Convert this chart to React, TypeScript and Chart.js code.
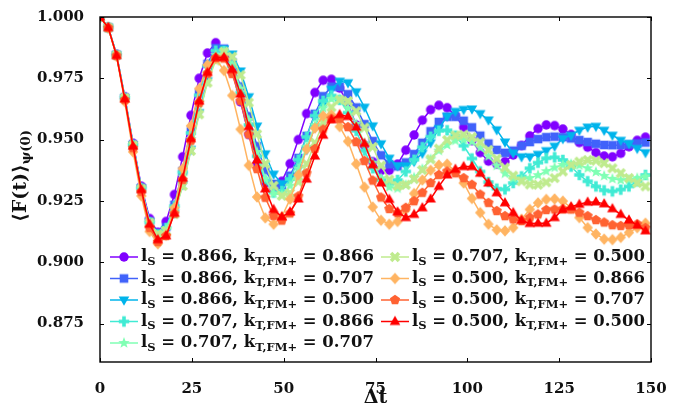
import React, { useEffect, useRef } from "react";
import { Chart, registerables } from "chart.js";

Chart.register(...registerables);

// time axis (Δt)
const T = [0, 2.25, 4.5, 6.75, 9, 11.25, 13.5, 15.75, 18, 20.25, 22.5, 24.75, 27, 29.25, 31.5, 33.75, 36, 38.25, 40.5, 42.75, 45, 47.25, 49.5, 51.75, 54, 56.25, 58.5, 60.75, 63, 65.25, 67.5, 69.75, 72, 74.25, 76.5, 78.75, 81, 83.25, 85.5, 87.75, 90, 92.25, 94.5, 96.75, 99, 101.25, 103.5, 105.75, 108, 110.25, 112.5, 114.75, 117, 119.25, 121.5, 123.75, 126, 128.25, 130.5, 132.75, 135, 137.25, 139.5, 141.75, 144, 146.25, 148.5];

const F_S866_K866 = [
  1.0, 0.9958, 0.9848, 0.9675, 0.9485, 0.931, 0.9178, 0.9122, 0.9166, 0.9276,
  0.943, 0.9599, 0.975, 0.9853, 0.9895, 0.986, 0.9776, 0.9654, 0.9521, 0.9403,
  0.9324, 0.93, 0.933, 0.9402, 0.95, 0.9606, 0.9692, 0.9742, 0.9746, 0.971,
  0.9644, 0.956, 0.9476, 0.941, 0.9374, 0.9375, 0.94, 0.9457, 0.9519, 0.9579,
  0.9622, 0.964, 0.963, 0.9598, 0.955, 0.9496, 0.9447, 0.9412, 0.94, 0.941,
  0.9437, 0.9476, 0.9515, 0.9545, 0.956, 0.9557, 0.9543, 0.9521, 0.9488, 0.9469,
  0.9447, 0.9433, 0.943, 0.9444, 0.9471, 0.9497, 0.951,
];
const F_S866_K707 = [
  1.0, 0.9957, 0.9846, 0.9671, 0.948, 0.9303, 0.9166, 0.9115, 0.9143, 0.9234,
  0.9372, 0.9534, 0.9689, 0.9809, 0.9873, 0.9871, 0.9815, 0.9717, 0.9595, 0.9473,
  0.9375, 0.9319, 0.9314, 0.9353, 0.9425, 0.9515, 0.9605, 0.9677, 0.9716, 0.9715,
  0.9685, 0.9631, 0.9563, 0.9494, 0.9436, 0.9399, 0.9391, 0.9407, 0.9441, 0.9487,
  0.9534, 0.9572, 0.9593, 0.9593, 0.9577, 0.955, 0.9516, 0.9484, 0.9458, 0.9446,
  0.9455, 0.9475, 0.949, 0.9502, 0.951, 0.9512, 0.951, 0.9505, 0.9498, 0.949,
  0.9483, 0.9478, 0.9477, 0.9478, 0.948, 0.9484, 0.9488,
];
const F_S866_K500 = [
  1.0, 0.9957, 0.9846, 0.967, 0.9478, 0.9302, 0.9165, 0.912, 0.9132, 0.92,
  0.9316, 0.946, 0.961, 0.974, 0.9833, 0.987, 0.9849, 0.978, 0.9675, 0.9555,
  0.9442, 0.9359, 0.9321, 0.9332, 0.9382, 0.9459, 0.9551, 0.9638, 0.9705, 0.9738,
  0.9732, 0.9695, 0.9632, 0.9556, 0.9483, 0.9424, 0.9393, 0.9393, 0.9411, 0.9444,
  0.9487, 0.9545, 0.9595, 0.9615, 0.9623, 0.9625, 0.9606, 0.958, 0.954, 0.949,
  0.9445, 0.943, 0.943, 0.944, 0.9455, 0.9473, 0.9504, 0.9518, 0.9538, 0.9551,
  0.9554, 0.9538, 0.9518, 0.9497, 0.9484, 0.9464, 0.9447,
];
const F_S707_K866 = [
  1.0, 0.9957, 0.9845, 0.967, 0.9478, 0.9302, 0.9163, 0.9112, 0.9139, 0.9229,
  0.9367, 0.9527, 0.9681, 0.98, 0.9863, 0.9861, 0.9799, 0.9691, 0.956, 0.9432,
  0.9333, 0.9284, 0.929, 0.9339, 0.9418, 0.9511, 0.9598, 0.9658, 0.968, 0.9662,
  0.961, 0.9536, 0.9455, 0.9383, 0.9335, 0.932, 0.9335, 0.937, 0.9418, 0.9469,
  0.9512, 0.9536, 0.9538, 0.9516, 0.9475, 0.9423, 0.937, 0.9327, 0.93, 0.9297,
  0.9323, 0.935, 0.9383, 0.9406, 0.9424, 0.9428, 0.9417, 0.939, 0.9356, 0.933,
  0.9309, 0.9293, 0.9289, 0.9296, 0.9309, 0.933, 0.9356,
];
const F_S707_K707 = [
  1.0, 0.9957, 0.9845, 0.967, 0.9477, 0.93, 0.916, 0.911, 0.9136, 0.922,
  0.935, 0.9502, 0.9652, 0.9773, 0.9845, 0.9858, 0.9807, 0.9708, 0.958, 0.9449,
  0.9341, 0.928, 0.9274, 0.9312, 0.9382, 0.947, 0.9558, 0.9628, 0.9666, 0.9664,
  0.9628, 0.9564, 0.9485, 0.9406, 0.9342, 0.9306, 0.9301, 0.9315, 0.9345, 0.938,
  0.942, 0.9455, 0.9478, 0.9496, 0.95, 0.9491, 0.9467, 0.9432, 0.9394, 0.9362,
  0.9342, 0.9338, 0.9343, 0.9355, 0.9371, 0.9386, 0.9397, 0.94, 0.9395, 0.9383,
  0.9368, 0.9352, 0.934, 0.9335, 0.9337, 0.9343, 0.935,
];
const F_S707_K500 = [
  1.0, 0.9957, 0.9845, 0.967, 0.9477, 0.93, 0.9162, 0.9115, 0.9128, 0.9196,
  0.9311, 0.9454, 0.9603, 0.9732, 0.9823, 0.9859, 0.9838, 0.9763, 0.9651, 0.9522,
  0.9401, 0.9312, 0.9271, 0.9282, 0.9328, 0.9401, 0.9487, 0.9569, 0.9632, 0.9663,
  0.9657, 0.9616, 0.9549, 0.947, 0.9394, 0.9337, 0.9311, 0.9316, 0.9339, 0.9376,
  0.942, 0.9463, 0.9498, 0.9517, 0.952, 0.951, 0.9489, 0.9458, 0.9422, 0.9386,
  0.9353, 0.933, 0.9317, 0.9316, 0.9326, 0.9343, 0.937, 0.9397, 0.941, 0.9417,
  0.9414, 0.9404, 0.9383, 0.9363, 0.9343, 0.9323, 0.9309,
];
const F_S500_K866 = [
  1.0, 0.9955, 0.984, 0.9655, 0.945, 0.927, 0.9125, 0.9075, 0.911, 0.9222,
  0.9382, 0.9556, 0.9708, 0.9805, 0.983, 0.9782, 0.968, 0.9542, 0.9395, 0.9266,
  0.9181, 0.9155, 0.9185, 0.9257, 0.9356, 0.9461, 0.9547, 0.9597, 0.9601, 0.9553,
  0.9493, 0.9401, 0.9306, 0.9225, 0.9171, 0.9155, 0.9166, 0.9215, 0.928, 0.9335,
  0.9375, 0.9396, 0.94, 0.937, 0.9323, 0.926, 0.9202, 0.9155, 0.9132, 0.9128,
  0.9141, 0.9175, 0.9215, 0.9242, 0.9256, 0.9258, 0.9249, 0.9222, 0.9182, 0.9141,
  0.9115, 0.9094, 0.9092, 0.9101, 0.9121, 0.9141, 0.9159,
];
const F_S500_K707 = [
  1.0, 0.9956, 0.9842, 0.9662, 0.9465, 0.9287, 0.914, 0.9083, 0.9107, 0.9198,
  0.9336, 0.9496, 0.965, 0.9769, 0.9833, 0.9831, 0.9768, 0.9658, 0.9521, 0.938,
  0.9263, 0.9189, 0.917, 0.9199, 0.9269, 0.9363, 0.9462, 0.9541, 0.9585, 0.9585,
  0.9551, 0.949, 0.9413, 0.9333, 0.9264, 0.9217, 0.92, 0.9222, 0.9249, 0.9283,
  0.9323, 0.9356, 0.937, 0.9363, 0.9343, 0.9316, 0.9276, 0.9242, 0.9209, 0.9188,
  0.9175, 0.9168, 0.9182, 0.9195, 0.9213, 0.9215, 0.9216, 0.9215, 0.9202, 0.9188,
  0.9172, 0.9162, 0.9151, 0.9148, 0.9151, 0.9155, 0.914,
];
const F_S500_K500 = [
  1.0, 0.9957, 0.9843, 0.9666, 0.9473, 0.9296, 0.9155, 0.9092, 0.9108, 0.92,
  0.9343, 0.9504, 0.9657, 0.9774, 0.9835, 0.9835, 0.9786, 0.9686, 0.9553, 0.9417,
  0.9299, 0.9215, 0.9185, 0.9205, 0.9258, 0.9339, 0.9433, 0.9518, 0.9581, 0.9602,
  0.9594, 0.9551, 0.9484, 0.9397, 0.9323, 0.9256, 0.9205, 0.9182, 0.9195, 0.9222,
  0.9258, 0.9309, 0.9356, 0.9379, 0.939, 0.939, 0.9363, 0.9323, 0.9283, 0.9242,
  0.9202, 0.9171, 0.9158, 0.9159, 0.9159, 0.9182, 0.9215, 0.9226, 0.9236, 0.9245,
  0.9246, 0.9238, 0.9218, 0.9195, 0.9172, 0.9151, 0.9128,
];

const SERIES = [F_S866_K866, F_S866_K707, F_S866_K500, F_S707_K866, F_S707_K707, F_S707_K500, F_S500_K866, F_S500_K707, F_S500_K500];
const LS_LABELS = ["0.866", "0.866", "0.866", "0.707", "0.707", "0.707", "0.500", "0.500", "0.500"];
const K_LABELS = ["0.866", "0.707", "0.500", "0.866", "0.707", "0.500", "0.866", "0.707", "0.500"];
const COLORS = ["#8000ff", "#4062fa", "#00b4eb", "#40ebd4", "#80ffb4", "#bfeb8e", "#ffb462", "#ff6232", "#ff0000"];
const MARKERS = ["o", "s", "v", "P", "*", "X", "D", "p", "^"];
const X_TICKS = [0, 25, 50, 75, 100, 125, 150];
const Y_TICKS = [0.875, 0.9, 0.925, 0.95, 0.975, 1.0];
const X_MIN = 0, X_MAX = 150, Y_MIN = 0.8593, Y_MAX = 1.0;

const FONT = '"DejaVu Serif", "Liberation Serif", serif';

function makeMarker(kind: string, color: string): HTMLCanvasElement {
  const s = 16;
  const c = document.createElement("canvas");
  c.width = s;
  c.height = s;
  const g = c.getContext("2d")!;
  g.fillStyle = color;
  g.translate(s / 2, s / 2);
  g.beginPath();
  const poly = (pts: number[][]) => {
    pts.forEach((p, i) => (i === 0 ? g.moveTo(p[0], p[1]) : g.lineTo(p[0], p[1])));
    g.closePath();
  };
  const plus = (a: number, w: number) => [
    [-w, -a], [w, -a], [w, -w], [a, -w], [a, w], [w, w], [w, a], [-w, a], [-w, w], [-a, w], [-a, -w], [-w, -w],
  ];
  switch (kind) {
    case "o":
      g.arc(0, 0, 4.7, 0, Math.PI * 2);
      break;
    case "s":
      g.rect(-4.3, -4.3, 8.6, 8.6);
      break;
    case "v":
      poly([[-5.3, -3.4], [5.3, -3.4], [0, 5.8]]);
      break;
    case "^":
      poly([[-5.3, 3.4], [5.3, 3.4], [0, -5.8]]);
      break;
    case "D":
      poly([[0, -5.7], [5.2, 0], [0, 5.7], [-5.2, 0]]);
      break;
    case "P":
      poly(plus(5.2, 1.8));
      break;
    case "X":
      g.rotate(Math.PI / 4);
      poly(plus(5.6, 1.8));
      break;
    case "*": {
      const pts: number[][] = [];
      for (let k = 0; k < 10; k++) {
        const r = k % 2 === 0 ? 6.0 : 2.5;
        const ang = -Math.PI / 2 + (k * Math.PI) / 5;
        pts.push([r * Math.cos(ang), r * Math.sin(ang)]);
      }
      poly(pts);
      break;
    }
    case "p": {
      const pts: number[][] = [];
      for (let k = 0; k < 5; k++) {
        const ang = -Math.PI / 2 + (k * 2 * Math.PI) / 5;
        pts.push([5.3 * Math.cos(ang), 5.3 * Math.sin(ang)]);
      }
      poly(pts);
      break;
    }
  }
  g.fill();
  return c;
}

type Part = { t: string; sub?: boolean };

function drawRich(ctx: CanvasRenderingContext2D, parts: Part[], x: number, y: number, size: number, measureOnly = false) {
  let cx = x;
  for (const p of parts) {
    const fs = p.sub ? size * 0.7 : size;
    ctx.font = `bold ${fs}px ${FONT}`;
    const w = ctx.measureText(p.t).width;
    if (!measureOnly) ctx.fillText(p.t, cx, p.sub ? y + size * 0.3 : y);
    cx += w;
  }
  return cx - x;
}

export default function App() {
  const ref = useRef<HTMLCanvasElement>(null);

  useEffect(() => {
    const markers = MARKERS.map((m, i) => makeMarker(m, COLORS[i]));

    const decor = {
      id: "decor",
      afterDraw(chart: any) {
        const { ctx, chartArea: a, scales } = chart;
        ctx.save();
        // frame
        ctx.strokeStyle = "#000";
        ctx.lineWidth = 1.4;
        ctx.strokeRect(a.left, a.top, a.right - a.left, a.bottom - a.top);
        // inward ticks
        ctx.lineWidth = 1;
        ctx.beginPath();
        for (const v of X_TICKS) {
          const p = Math.round(scales.x.getPixelForValue(v)) + 0.5;
          ctx.moveTo(p, a.bottom);
          ctx.lineTo(p, a.bottom - 4);
          ctx.moveTo(p, a.top);
          ctx.lineTo(p, a.top + 4);
        }
        for (const v of Y_TICKS) {
          const p = Math.round(scales.y.getPixelForValue(v)) + 0.5;
          ctx.moveTo(a.left, p);
          ctx.lineTo(a.left + 4, p);
          ctx.moveTo(a.right, p);
          ctx.lineTo(a.right - 4, p);
        }
        ctx.stroke();

        // legend
        const colX = [110, 381];
        const textX = [141, 412];
        const rowY = [257, 278.5, 300, 321.5, 343];
        const target = 233;
        ctx.textBaseline = "middle";
        ctx.textAlign = "left";
        SERIES.forEach((_, i) => {
          const col = i < 5 ? 0 : 1;
          const row = i < 5 ? i : i - 5;
          const y = rowY[row];
          const lx = colX[col];
          ctx.strokeStyle = COLORS[i];
          ctx.lineWidth = 1.5;
          ctx.beginPath();
          ctx.moveTo(lx, y);
          ctx.lineTo(lx + 28, y);
          ctx.stroke();
          ctx.drawImage(markers[i], lx + 14 - 8, y - 8);
          const parts: Part[] = [
            { t: "l" },
            { t: "S", sub: true },
            { t: " = " + LS_LABELS[i] + ", k" },
            { t: "T,FM+", sub: true },
            { t: " = " + K_LABELS[i] },
          ];
          const w0 = drawRich(ctx, parts, 0, 0, 16, true);
          const size = (16 * target) / w0;
          ctx.fillStyle = "#111";
          drawRich(ctx, parts, textX[col], y, size);
        });

        // x title
        ctx.fillStyle = "#111";
        ctx.textAlign = "center";
        ctx.font = `bold 19px ${FONT}`;
        ctx.fillText("\u0394t", (a.left + a.right) / 2, 398);

        // y title
        ctx.save();
        ctx.translate(21, 176);
        ctx.rotate(-Math.PI / 2);
        ctx.textAlign = "left";
        const yParts: Part[] = [{ t: "\u27E8F(t)\u27E9" }, { t: "\u03C8(0)", sub: true }];
        const wy = drawRich(ctx, yParts, 0, 0, 19, true);
        drawRich(ctx, yParts, -wy / 2, 0, 19);
        ctx.restore();

        ctx.restore();
      },
    };

    const datasets = SERIES.map((vals, i) => ({
      label: `ls=${LS_LABELS[i]}, k=${K_LABELS[i]}`,
      data: vals.map((v, j) => ({ x: T[j], y: v })),
      borderColor: COLORS[i],
      backgroundColor: COLORS[i],
      borderWidth: 1.5,
      pointStyle: markers[i],
      pointRadius: 5,
      tension: 0,
      fill: false,
      order: SERIES.length - 1 - i,
    }));

    const tickFont = { family: FONT, size: 15, weight: "bold" as const };

    const chart = new Chart(ref.current!, {
      type: "line",
      data: { datasets },
      options: {
        animation: false,
        responsive: false,
        parsing: false as any,
        layout: { padding: { top: 12, right: 42, left: 0, bottom: 0 } },
        plugins: { legend: { display: false }, tooltip: { enabled: false } },
        scales: {
          x: {
            type: "linear",
            min: X_MIN,
            max: X_MAX,
            afterBuildTicks: (s: any) => {
              s.ticks = X_TICKS.map((v) => ({ value: v }));
            },
            afterFit: (s: any) => {
              s.height = 52;
            },
            grid: { display: false },
            border: { display: false },
            ticks: {
              color: "#111",
              font: tickFont,
              padding: 10,
              maxRotation: 0,
              autoSkip: false,
              callback: (v: any) => String(v),
            },
          },
          y: {
            type: "linear",
            min: Y_MIN,
            max: Y_MAX,
            afterBuildTicks: (s: any) => {
              s.ticks = Y_TICKS.map((v) => ({ value: v }));
            },
            afterFit: (s: any) => {
              s.width = 100;
            },
            grid: { display: false },
            border: { display: false },
            ticks: {
              color: "#111",
              font: tickFont,
              padding: 8,
              autoSkip: false,
              callback: (v: any) => Number(v).toFixed(3),
            },
          },
        },
      },
      plugins: [decor],
    });
    return () => chart.destroy();
  }, []);

  return (
    <div style={{ position: "fixed", left: 0, top: 0, width: 693, height: 414, background: "#fff" }}>
      <canvas ref={ref} width={693} height={414} style={{ display: "block" }} />
    </div>
  );
}
